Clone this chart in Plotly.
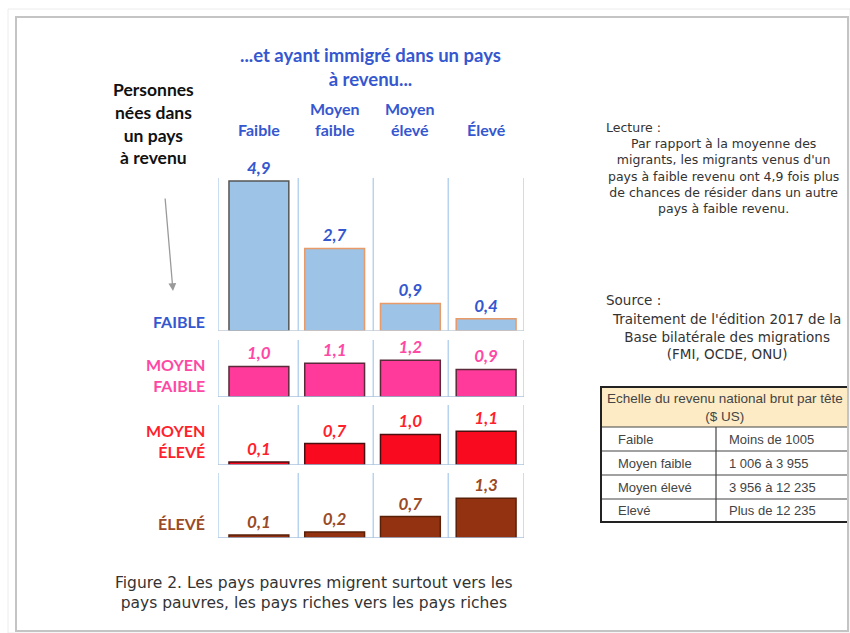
import plotly.graph_objects as go

W, H = 850, 633

# ---------------- data ----------------
dest_levels = ["Faible", "Moyen faible", "Moyen élevé", "Élevé"]
dest_headers = ["Faible", "Moyen<br>faible", "Moyen<br>élevé", "Élevé"]
origin_labels = ["FAIBLE", "MOYEN<br>FAIBLE", "MOYEN<br>ÉLEVÉ", "ÉLEVÉ"]

val_faible = [4.9, 2.7, 0.9, 0.4]
val_moyen_faible = [1.0, 1.1, 1.2, 0.9]
val_moyen_eleve = [0.1, 0.7, 1.0, 1.1]
val_eleve = [0.1, 0.2, 0.7, 1.3]

table_title = "Echelle du revenu national brut par tête<br>($ US)"
table_levels = ["Faible", "Moyen faible", "Moyen élevé", "Elevé"]
table_ranges = ["Moins de 1005", "1 006 à 3 955", "3 956 à 12 235", "Plus de 12 235"]

header_text = "...et ayant immigré dans un pays<br>à revenu..."
left_text = "Personnes<br>nées dans<br>un pays<br>à revenu"
lecture_title = "Lecture :"
lecture_text = ("Par rapport à la moyenne des<br>migrants, les migrants venus d'un<br>"
                "pays à faible revenu ont 4,9 fois plus<br>de chances de résider dans un autre<br>"
                "pays à faible revenu.")
source_title = "Source :"
source_text = "Traitement de l'édition 2017 de la<br>Base bilatérale des migrations<br>(FMI, OCDE, ONU)"
caption = ("Figure 2. Les pays pauvres migrent surtout vers les<br>"
           "pays pauvres, les pays riches vers les pays riches")

# ---------------- styles ----------------
series = [val_faible, val_moyen_faible, val_moyen_eleve, val_eleve]
fills = ["#9dc3e6", "#ff3a9a", "#fa0a1e", "#923210"]
outlines = [["#555555", "#e89a68", "#e89a68", "#e89a68"],
            "#5a2a3a", "#4a1010", "#5a2008"]
text_colors = ["#3557cf", "#ff48a4", "#ff1f2d", "#9a4a26"]
panel_tops = [178, 340, 405, 473]
panel_bottoms = [331, 397, 465, 538]
label_bottoms = [333, 397, 463, 535]
PX_PER_UNIT = 30.6
X0_PX, X1_PX = 218, 524
XR = [-0.54, 3.5]
SEP_X = [-0.54, 0.52, 1.51, 2.5, 3.5]
LINE_BLUE = "#b8d3ee"

def px(x):
    return x / W

def py(y):
    return 1 - y / H

FONT_T = "Lato"
FONT_R = "DejaVu Sans"
FONT_TAB = "Liberation Sans"

fig = go.Figure()
shapes = []
annotations = []

for i, vals in enumerate(series):
    n = "" if i == 0 else str(i + 1)
    fig.add_trace(go.Bar(
        x=dest_levels, y=vals, xaxis="x" + n, yaxis="y" + n,
        marker=dict(color=fills[i], line=dict(color=outlines[i], width=1.5)),
        width=0.79,
        texttemplate="%{y:.1f}", textposition="outside", cliponaxis=False,
        constraintext="none",
        textfont=dict(family=FONT_T, size=17, color=text_colors[i], weight="bold", style="italic"),
        hoverinfo="skip", showlegend=False,
    ))
    top, bot = panel_tops[i], panel_bottoms[i]
    yrange = (bot - top) / PX_PER_UNIT
    fig.update_layout(**{
        "xaxis" + n: dict(domain=[px(X0_PX), px(X1_PX)], range=XR, showticklabels=False,
                          showgrid=False, zeroline=False, showline=False, fixedrange=True,
                          anchor="y" + n),
        "yaxis" + n: dict(domain=[py(bot), py(top)], range=[0, yrange], showticklabels=False,
                          showgrid=False, zeroline=False, showline=False, fixedrange=True,
                          anchor="x" + n),
    })
    for sx in SEP_X:
        shapes.append(dict(type="line", xref="x" + n, yref="y" + n + " domain",
                           x0=sx, x1=sx, y0=0, y1=1, line=dict(color=LINE_BLUE, width=1.5), layer="below"))
    shapes.append(dict(type="line", xref="x" + n, yref="y" + n, x0=XR[0], x1=XR[1], y0=0, y1=0,
                       line=dict(color="#aac3e0" if i else "#c3cbd6", width=1.5)))
    annotations.append(dict(
        text=origin_labels[i], x=px(207), y=py(label_bottoms[i]), xref="paper", yref="paper",
        xanchor="right", yanchor="bottom", align="right", showarrow=False,
        font=dict(family=FONT_T, size=16, color=text_colors[i], weight="bold")))

# column headers
for j, h in enumerate(dest_headers):
    annotations.append(dict(text=h, x=dest_levels[j], xref="x", y=py(141), yref="paper",
                            xanchor="center", yanchor="bottom", showarrow=False,
                            font=dict(family=FONT_T, size=16, color="#3557cf", weight="bold")))

annotations.append(dict(text=header_text, x=px(370), y=py(42), xref="paper", yref="paper",
                        xanchor="center", yanchor="top", showarrow=False,
                        font=dict(family=FONT_T, size=18.5, color="#3557cf", weight="bold")))
annotations.append(dict(text=left_text, x=px(153), y=py(77), xref="paper", yref="paper",
                        xanchor="center", yanchor="top", showarrow=False,
                        font=dict(family=FONT_T, size=17.5, color="#111111", weight="bold")))
# arrow
annotations.append(dict(text="", x=px(173), y=py(291), xref="paper", yref="paper",
                        showarrow=True, ax=-8, ay=-94, arrowhead=2, arrowsize=1.2,
                        arrowwidth=1.3, arrowcolor="#9a9a9a"))

# right text blocks
annotations.append(dict(text=lecture_title, x=px(604), y=py(118), xref="paper", yref="paper",
                        xanchor="left", yanchor="top", showarrow=False,
                        font=dict(family=FONT_R, size=12.5, color="#333333")))
annotations.append(dict(text=lecture_text, x=px(723), y=py(134), xref="paper", yref="paper",
                        xanchor="center", yanchor="top", showarrow=False, align="center",
                        font=dict(family=FONT_R, size=12.5, color="#333333")))
annotations.append(dict(text=source_title, x=px(604), y=py(290), xref="paper", yref="paper",
                        xanchor="left", yanchor="top", showarrow=False,
                        font=dict(family=FONT_R, size=13.5, color="#333333")))
annotations.append(dict(text=source_text, x=px(726), y=py(309), xref="paper", yref="paper",
                        xanchor="center", yanchor="top", showarrow=False, align="center",
                        font=dict(family=FONT_R, size=13.5, color="#333333")))

# table
TX0, TX1, TXM = 601, 848, 716
row_lines = [387, 427, 451, 475, 499, 522]
shapes.append(dict(type="rect", xref="paper", yref="paper", x0=px(TX0), x1=px(TX1),
                   y0=py(row_lines[0]), y1=py(row_lines[1]), fillcolor="#fcebc4",
                   line=dict(width=0), layer="below"))
for ry in row_lines[1:-1]:
    shapes.append(dict(type="line", xref="paper", yref="paper", x0=px(TX0), x1=px(TX1),
                       y0=py(ry), y1=py(ry), line=dict(color="#444444", width=1.2)))
shapes.append(dict(type="line", xref="paper", yref="paper", x0=px(TXM), x1=px(TXM),
                   y0=py(row_lines[1]), y1=py(row_lines[-1]), line=dict(color="#444444", width=1.2)))
shapes.append(dict(type="rect", xref="paper", yref="paper", x0=px(TX0), x1=px(TX1),
                   y0=py(row_lines[0]), y1=py(row_lines[-1]), line=dict(color="#222222", width=2)))
annotations.append(dict(text=table_title, x=px((TX0 + TX1) / 2), y=py((row_lines[0] + row_lines[1]) / 2),
                        xref="paper", yref="paper", xanchor="center", yanchor="middle",
                        showarrow=False, align="center",
                        font=dict(family=FONT_TAB, size=13.5, color="#444444")))
for k in range(len(table_levels)):
    cy = py((row_lines[k + 1] + row_lines[k + 2]) / 2)
    annotations.append(dict(text=table_levels[k], x=px(616), y=cy, xref="paper", yref="paper",
                            xanchor="left", yanchor="middle", showarrow=False,
                            font=dict(family=FONT_TAB, size=13, color="#444444")))
    annotations.append(dict(text=table_ranges[k], x=px(727), y=cy, xref="paper", yref="paper",
                            xanchor="left", yanchor="middle", showarrow=False,
                            font=dict(family=FONT_TAB, size=13, color="#444444")))

# caption
annotations.append(dict(text=caption, x=px(314), y=py(572), xref="paper", yref="paper",
                        xanchor="center", yanchor="top", showarrow=False, align="center",
                        font=dict(family=FONT_R, size=15.5, color="#333333")))

# outer frame
shapes.append(dict(type="rect", xref="paper", yref="paper", x0=px(16), x1=px(848),
                   y0=py(631), y1=py(17), line=dict(color="#c4c4c4", width=2)))
shapes.append(dict(type="rect", xref="paper", yref="paper", x0=px(8), x1=px(850),
                   y0=py(633), y1=py(9), line=dict(color="#ececec", width=1)))

fig.update_layout(
    width=W, height=H, margin=dict(l=0, r=0, t=0, b=0),
    paper_bgcolor="white", plot_bgcolor="rgba(0,0,0,0)",
    separators=", ", shapes=shapes, annotations=annotations, showlegend=False,
)

fig.write_html("out.html", config={"displayModeBar": False},
               post_script="document.body.style.margin='0';")
